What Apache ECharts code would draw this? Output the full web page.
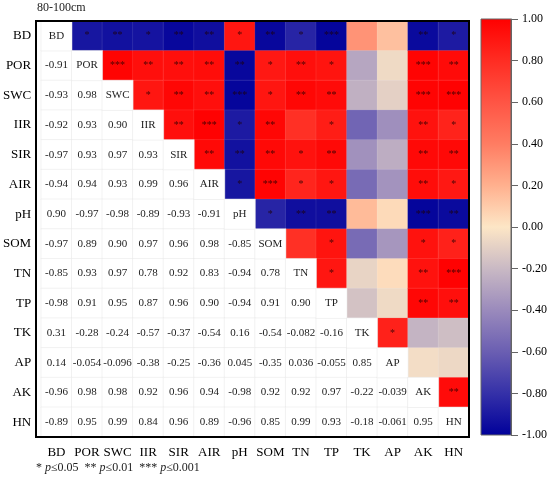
<!DOCTYPE html>
<html>
<head>
<meta charset="utf-8">
<script src="https://cdn.jsdelivr.net/npm/echarts@6/dist/echarts.min.js"></script>
<style>
  html, body { margin: 0; padding: 0; background: #fff; }
  #main { width: 550px; height: 479px; }
</style>
</head>
<body>
<div id="main"></div>
<script>
var vars = ['BD', 'POR', 'SWC', 'IIR', 'SIR', 'AIR', 'pH', 'SOM', 'TN', 'TP', 'TK', 'AP', 'AK', 'HN'];

// lower triangle, row i holds r(i, 0..i-1)
var lowerRows = [
  [],
  [-0.91],
  [-0.93, 0.98],
  [-0.92, 0.93, 0.90],
  [-0.97, 0.93, 0.97, 0.93],
  [-0.94, 0.94, 0.93, 0.99, 0.96],
  [0.90, -0.97, -0.98, -0.89, -0.93, -0.91],
  [-0.97, 0.89, 0.90, 0.97, 0.96, 0.98, -0.85],
  [-0.85, 0.93, 0.97, 0.78, 0.92, 0.83, -0.94, 0.78],
  [-0.98, 0.91, 0.95, 0.87, 0.96, 0.90, -0.94, 0.91, 0.90],
  [0.31, -0.28, -0.24, -0.57, -0.37, -0.54, 0.16, -0.54, -0.082, -0.16],
  [0.14, -0.054, -0.096, -0.38, -0.25, -0.36, 0.045, -0.35, 0.036, -0.055, 0.85],
  [-0.96, 0.98, 0.98, 0.92, 0.96, 0.94, -0.98, 0.92, 0.92, 0.97, -0.22, -0.039],
  [-0.89, 0.95, 0.99, 0.84, 0.96, 0.89, -0.96, 0.85, 0.99, 0.93, -0.18, -0.061, 0.95]
];

// significance stars, row i holds columns i+1..13
var starRows = [
  ['*', '**', '*', '**', '**', '*', '**', '*', '***', '', '', '**', '*'],
  ['***', '**', '**', '**', '**', '*', '**', '*', '', '', '***', '**'],
  ['*', '**', '**', '***', '*', '**', '**', '', '', '***', '***'],
  ['**', '***', '*', '**', '', '*', '', '', '**', '*'],
  ['**', '**', '**', '*', '**', '', '', '**', '**'],
  ['*', '***', '*', '*', '', '', '**', '*'],
  ['*', '**', '**', '', '', '***', '**'],
  ['', '*', '', '', '*', '*'],
  ['*', '', '', '**', '***'],
  ['', '', '**', '**'],
  ['*', '', ''],
  ['', ''],
  ['**']
];

var rampColors = ['#00009a', '#3430a8', '#6a5eb2', '#9a8abc', '#c9b9c4', '#fde6c6',
                  '#ffb08e', '#ff7c62', '#ff5444', '#ff2c22', '#ff0000'];

var serif = 'Liberation Serif';

function fmt(v) {
  return Math.abs(v) < 0.1 ? v.toPrecision(2) : v.toFixed(2);
}

var upperData = [], lowerData = [], diagData = [];
for (var i = 0; i < vars.length; i++) {
  diagData.push([i, i, 0]);
  for (var j = 0; j < i; j++) {
    var r = lowerRows[i][j];
    lowerData.push([j, i, r]);
    upperData.push({ value: [i, j, r], stars: starRows[j][i - j - 1] });
  }
}

var G = { left: 36, top: 21, width: 433, height: 416 };
var B = { left: 481, top: 19, width: 30, height: 416 };

var myChart = echarts.init(document.getElementById('main'));
var gradStops = rampColors.map(function (c, k) {
  return { offset: 1 - k / (rampColors.length - 1), color: c };
});

var option = {
  animation: false,
  backgroundColor: '#fff',
  textStyle: { fontFamily: serif },
  grid: [
    { left: G.left, top: G.top, width: G.width, height: G.height },
    { left: B.left, top: B.top, width: B.width, height: B.height }
  ],
  xAxis: [
    {
      type: 'category', data: vars, gridIndex: 0,
      axisLine: { show: false }, axisTick: { show: false }, splitLine: { show: false },
      axisLabel: { interval: 0, fontFamily: serif, fontSize: 13, color: '#000', margin: 9 }
    },
    { type: 'category', data: [''], gridIndex: 1, show: false }
  ],
  yAxis: [
    {
      type: 'category', data: vars, inverse: true, gridIndex: 0,
      axisLine: { show: false }, axisTick: { show: false }, splitLine: { show: false },
      axisLabel: { interval: 0, fontFamily: serif, fontSize: 13, color: '#000', margin: 10 }
    },
    {
      type: 'value', gridIndex: 1, min: -1, max: 1, interval: 0.2, position: 'right',
      axisLine: { show: true, lineStyle: { color: '#666', width: 1 } },
      axisTick: { show: true, length: 7, lineStyle: { color: '#666' } },
      splitLine: { show: false },
      axisLabel: {
        fontFamily: serif, fontSize: 12, color: '#000', margin: 11,
        formatter: function (v) { return v.toFixed(2); }
      }
    }
  ],
  visualMap: {
    show: false, type: 'continuous', min: -1, max: 1, seriesIndex: 0, dimension: 2,
    inRange: { color: rampColors }
  },
  series: [
    {
      type: 'heatmap', data: upperData,
      itemStyle: { borderColor: 'rgba(255,255,255,0.18)', borderWidth: 0.5 },
      label: {
        show: true, fontSize: 10, color: 'rgba(30,0,0,0.8)', fontFamily: serif,
        formatter: function (p) { return p.data.stars; }
      },
      emphasis: { disabled: true }
    },
    {
      type: 'heatmap', data: lowerData,
      itemStyle: { color: '#fff', borderColor: '#e6e6e6', borderWidth: 0.5 },
      label: {
        show: true, fontSize: 11, color: '#222', fontFamily: serif,
        formatter: function (p) { return fmt(p.value[2]); }
      },
      emphasis: { disabled: true }
    },
    {
      type: 'heatmap', data: diagData,
      itemStyle: { color: '#fff', borderColor: '#e6e6e6', borderWidth: 0.5 },
      label: {
        show: true, fontSize: 11, color: '#222', fontFamily: serif,
        formatter: function (p) { return vars[p.value[0]]; }
      },
      emphasis: { disabled: true }
    }
  ],
  graphic: [
    {
      type: 'rect', z: 100, silent: true,
      shape: { x: G.left, y: G.top, width: G.width, height: G.height },
      style: { fill: null, stroke: '#000', lineWidth: 2 }
    },
    {
      type: 'rect', z: 10, silent: true,
      shape: { x: B.left, y: B.top, width: B.width, height: B.height },
      style: {
        fill: new echarts.graphic.LinearGradient(0, 0, 0, 1, gradStops),
        stroke: '#666', lineWidth: 1
      }
    },
    {
      type: 'text', left: 37, top: 2,
      style: { text: '80-100cm', fontFamily: serif, fontSize: 12, fill: '#222' }
    },
    {
      type: 'text', left: 36, top: 462,
      style: {
        text: '* {i|p}≤0.05  ** {i|p}≤0.01  *** {i|p}≤0.001',
        fontFamily: serif, fontSize: 12, fill: '#222',
        rich: { i: { fontStyle: 'italic', fontFamily: serif, fontSize: 12, fill: '#222' } }
      }
    }
  ]
};
myChart.setOption(option);
</script>
</body>
</html>
